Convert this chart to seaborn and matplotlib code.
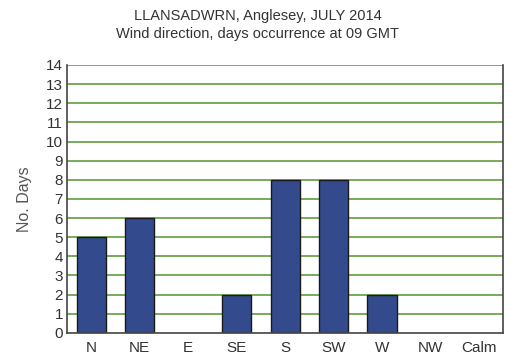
import pandas as pd
import matplotlib
matplotlib.use("Agg")
import matplotlib.pyplot as plt
import seaborn as sns

directions = ["N", "NE", "E", "SE", "S", "SW", "W", "NW", "Calm"]
days = [5, 6, 0, 2, 8, 8, 2, 0, 0]

df = pd.DataFrame({"direction": directions, "days": days})

sns.set_theme(style="white")
plt.rcParams["font.family"] = ["Liberation Sans", "DejaVu Sans"]

fig = plt.figure(figsize=(5.16, 3.63), dpi=100)
ax = fig.add_axes([0.130, 0.083, 0.845, 0.738])

sns.barplot(data=df, x="direction", y="days", order=directions,
            color="#334a8c", saturation=1, width=0.6,
            edgecolor="#1a1a1a", linewidth=1.0, ax=ax, zorder=3)

# zero-height bars are not drawn in the original
for p in ax.patches:
    if p.get_height() == 0:
        p.set_visible(False)

ax.set_ylim(0, 14)
ax.set_yticks(range(0, 15))
ax.set_xlim(-0.5, len(directions) - 0.5)
for y in range(1, 15):
    ax.axhline(y, color="#5f9e3f", linewidth=1.2, zorder=1)

ax.spines["top"].set_visible(False)
for s in ["left", "bottom", "right"]:
    ax.spines[s].set_color("#444444")
    ax.spines[s].set_linewidth(1.2)
    ax.spines[s].set_zorder(4)

ax.tick_params(axis="both", labelsize=11, colors="#333333", length=0, pad=3)
ax.tick_params(axis="x", pad=6)
ax.set_xlabel("")
ax.set_ylabel("No. Days", fontsize=11.5, color="#555555", labelpad=10)

fig.text(0.5, 0.955, "LLANSADWRN, Anglesey, JULY 2014", ha="center", va="center",
         fontsize=10.5, color="#333333")
fig.text(0.5, 0.905, "Wind direction, days occurrence at 09 GMT", ha="center", va="center",
         fontsize=10.5, color="#333333")

fig.savefig("out.png", dpi=100, facecolor="white")
